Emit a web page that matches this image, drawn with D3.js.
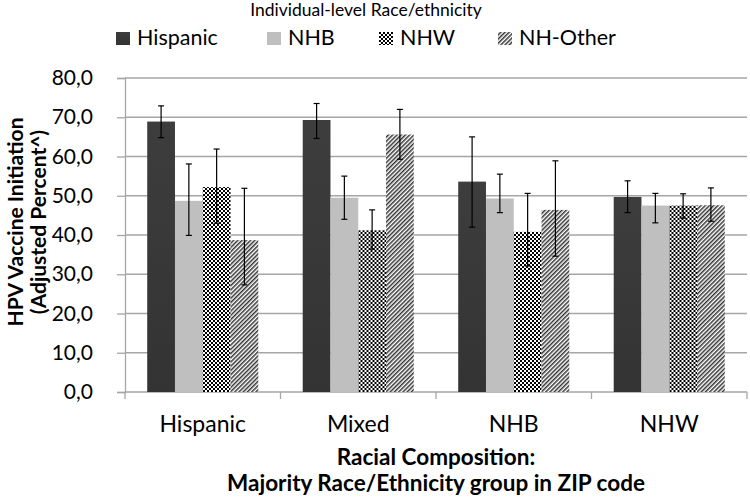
<!DOCTYPE html>
<html>
<head>
<meta charset="utf-8">
<script src="https://cdn.jsdelivr.net/npm/d3@7"></script>
<style>
  body { margin: 0; background: #fff; }
  text { font-family: Lato, "Open Sans", sans-serif; fill: #000; }
</style>
</head>
<body>
<script>
// zip code majority group (x categories)
var categories = ["Hispanic", "Mixed", "NHB", "NHW"];
// individual level race/ethnicity (series)
var seriesNames = ["Hispanic", "NHB", "NHW", "NH-Other"];

var hispanicVals = [68.9, 69.3, 53.6, 49.7];
var nhbVals      = [48.7, 49.5, 49.3, 47.5];
var nhwVals      = [52.2, 41.2, 40.8, 47.5];
var otherVals    = [38.7, 65.6, 46.4, 47.6];

// error bar low / high
var hispanicLo = [64.8, 64.6, 42.0, 45.7], hispanicHi = [72.9, 73.5, 65.0, 53.8];
var nhbLo      = [39.9, 44.0, 45.7, 43.1], nhbHi      = [58.1, 55.0, 55.5, 50.6];
var nhwLo      = [43.0, 36.4, 32.1, 44.3], nhwHi      = [61.9, 46.4, 50.6, 50.5];
var otherLo    = [27.3, 59.3, 34.6, 43.5], otherHi    = [51.9, 72.0, 58.9, 52.0];

var yTicks = [0, 10, 20, 30, 40, 50, 60, 70, 80];

function drawChart() {
  var allVals = [hispanicVals, nhbVals, nhwVals, otherVals];
  var allLo = [hispanicLo, nhbLo, nhwLo, otherLo];
  var allHi = [hispanicHi, nhbHi, nhwHi, otherHi];
  var fills = ["url(#gradHisp)", "#bfbfbf", "url(#checker)", "url(#stripes)"];

  var W = 750, H = 502;
  var mLeft = 125, mRight = 747, mTop = 78, mBottom = 392;

  var svg = d3.select("body").append("svg")
      .attr("width", W)
      .attr("height", H);

  var defs = svg.append("defs");
  var grad = defs.append("linearGradient").attr("id", "gradHisp")
      .attr("x1", 0).attr("y1", 0).attr("x2", 0).attr("y2", 1);
  grad.append("stop").attr("offset", "0%").attr("stop-color", "#3d3d3d");
  grad.append("stop").attr("offset", "100%").attr("stop-color", "#333333");

  var checker = defs.append("pattern").attr("id", "checker")
      .attr("patternUnits", "userSpaceOnUse").attr("width", 4).attr("height", 4);
  checker.append("rect").attr("width", 4).attr("height", 4).attr("fill", "#fff");
  checker.append("rect").attr("width", 2).attr("height", 2).attr("fill", "#000");
  checker.append("rect").attr("x", 2).attr("y", 2).attr("width", 2).attr("height", 2).attr("fill", "#000");

  var stripes = defs.append("pattern").attr("id", "stripes")
      .attr("patternUnits", "userSpaceOnUse").attr("width", 3).attr("height", 3)
      .attr("patternTransform", "rotate(45)");
  stripes.append("rect").attr("width", 3).attr("height", 3).attr("fill", "#fff");
  stripes.append("line").attr("x1", 0.75).attr("y1", 0).attr("x2", 0.75).attr("y2", 3)
      .attr("stroke", "#333").attr("stroke-width", 1.5);

  var x0 = d3.scaleBand().domain(categories).range([mLeft, mRight]);
  var x1 = d3.scaleBand().domain(seriesNames).range([0, x0.bandwidth()]).paddingOuter(0.8);
  var y = d3.scaleLinear().domain([0, 80]).range([mBottom, mTop]);

  // gridlines
  svg.append("g").selectAll("line")
    .data(yTicks.slice(1))
    .enter().append("line")
      .attr("x1", mLeft).attr("x2", mRight)
      .attr("y1", function(d) { return y(d); })
      .attr("y2", function(d) { return y(d); })
      .attr("stroke", "#a6a6a6").attr("stroke-width", 1.3);

  // y axis
  var yAxis = svg.append("g")
      .attr("transform", "translate(" + mLeft + ",0)")
      .call(d3.axisLeft(y).tickValues(yTicks).tickSize(8).tickPadding(24)
        .tickFormat(function(d) { return d3.format(".1f")(d).replace(".", ","); }));
  yAxis.select(".domain").attr("stroke", "#a6a6a6").attr("stroke-width", 1.3);
  yAxis.selectAll(".tick line").attr("stroke", "#a6a6a6").attr("stroke-width", 1.3);
  yAxis.selectAll(".tick text").attr("font-size", 21).attr("font-family", "Lato").attr("fill", "#000");

  // x axis baseline and boundary ticks
  svg.append("line").attr("x1", mLeft).attr("x2", mRight)
      .attr("y1", mBottom).attr("y2", mBottom)
      .attr("stroke", "#a6a6a6").attr("stroke-width", 1.3);
  var bounds = categories.map(function(c) { return x0(c); }).concat([mRight]);
  svg.append("g").selectAll("line").data(bounds).enter().append("line")
      .attr("x1", function(d) { return d; }).attr("x2", function(d) { return d; })
      .attr("y1", mBottom).attr("y2", mBottom + 7)
      .attr("stroke", "#a6a6a6").attr("stroke-width", 1.3);

  svg.append("g").selectAll("text").data(categories).enter().append("text")
      .attr("x", function(d) { return x0(d) + x0.bandwidth() / 2; })
      .attr("y", 432)
      .attr("text-anchor", "middle")
      .attr("font-size", 23)
      .text(function(d) { return d; });

  // bars
  var groups = svg.append("g").selectAll("g")
    .data(categories)
    .enter().append("g")
      .attr("transform", function(d) { return "translate(" + x0(d) + ",0)"; });

  groups.selectAll("rect")
    .data(function(c, ci) {
      return seriesNames.map(function(s, si) {
        return { s: s, si: si, v: allVals[si][ci] };
      });
    })
    .enter().append("rect")
      .attr("x", function(d) { return x1(d.s); })
      .attr("width", x1.bandwidth())
      .attr("y", function(d) { return y(d.v); })
      .attr("height", function(d) { return mBottom - y(d.v); })
      .attr("fill", function(d) { return fills[d.si]; });

  // error bars
  var err = groups.selectAll("g.err")
    .data(function(c, ci) {
      return seriesNames.map(function(s, si) {
        return { s: s, lo: allLo[si][ci], hi: allHi[si][ci] };
      });
    })
    .enter().append("g").attr("class", "err")
      .attr("stroke", "#000").attr("stroke-width", 1.2);
  err.append("line")
      .attr("x1", function(d) { return x1(d.s) + x1.bandwidth() / 2; })
      .attr("x2", function(d) { return x1(d.s) + x1.bandwidth() / 2; })
      .attr("y1", function(d) { return y(d.lo); })
      .attr("y2", function(d) { return y(d.hi); });
  ["lo", "hi"].forEach(function(k) {
    err.append("line")
      .attr("x1", function(d) { return x1(d.s) + x1.bandwidth() / 2 - 3; })
      .attr("x2", function(d) { return x1(d.s) + x1.bandwidth() / 2 + 3; })
      .attr("y1", function(d) { return y(d[k]); })
      .attr("y2", function(d) { return y(d[k]); });
  });

  // axis titles
  svg.append("text")
      .attr("transform", "translate(23,222) rotate(-90)")
      .attr("text-anchor", "middle")
      .attr("font-size", 21).attr("font-weight", "bold")
      .text("HPV Vaccine Initiation");
  svg.append("text")
      .attr("transform", "translate(46,222) rotate(-90)")
      .attr("text-anchor", "middle")
      .attr("font-size", 21).attr("font-weight", "bold")
      .text("(Adjusted Percent^)");

  svg.append("text")
      .attr("x", (mLeft + mRight) / 2).attr("y", 465)
      .attr("text-anchor", "middle")
      .attr("font-size", 22.5).attr("font-weight", "bold")
      .text("Racial Composition:");
  svg.append("text")
      .attr("x", (mLeft + mRight) / 2).attr("y", 491)
      .attr("text-anchor", "middle")
      .attr("font-size", 22.5).attr("font-weight", "bold")
      .text("Majority Race/Ethnicity group in ZIP code");

  // legend
  svg.append("text")
      .attr("x", 366).attr("y", 16)
      .attr("text-anchor", "middle")
      .attr("font-size", 17.5)
      .text("Individual-level Race/ethnicity");

  var legendX = [116, 267, 379, 498];
  var leg = svg.append("g").selectAll("g")
    .data(seriesNames)
    .enter().append("g")
      .attr("transform", function(d, i) { return "translate(" + legendX[i] + ",0)"; });
  leg.append("rect")
      .attr("y", 32).attr("width", 14).attr("height", 13)
      .attr("fill", function(d, i) { return fills[i]; });
  leg.append("text")
      .attr("x", 21).attr("y", 45)
      .attr("font-size", 21.5)
      .text(function(d) { return d; });
}

drawChart();
</script>
</body>
</html>
